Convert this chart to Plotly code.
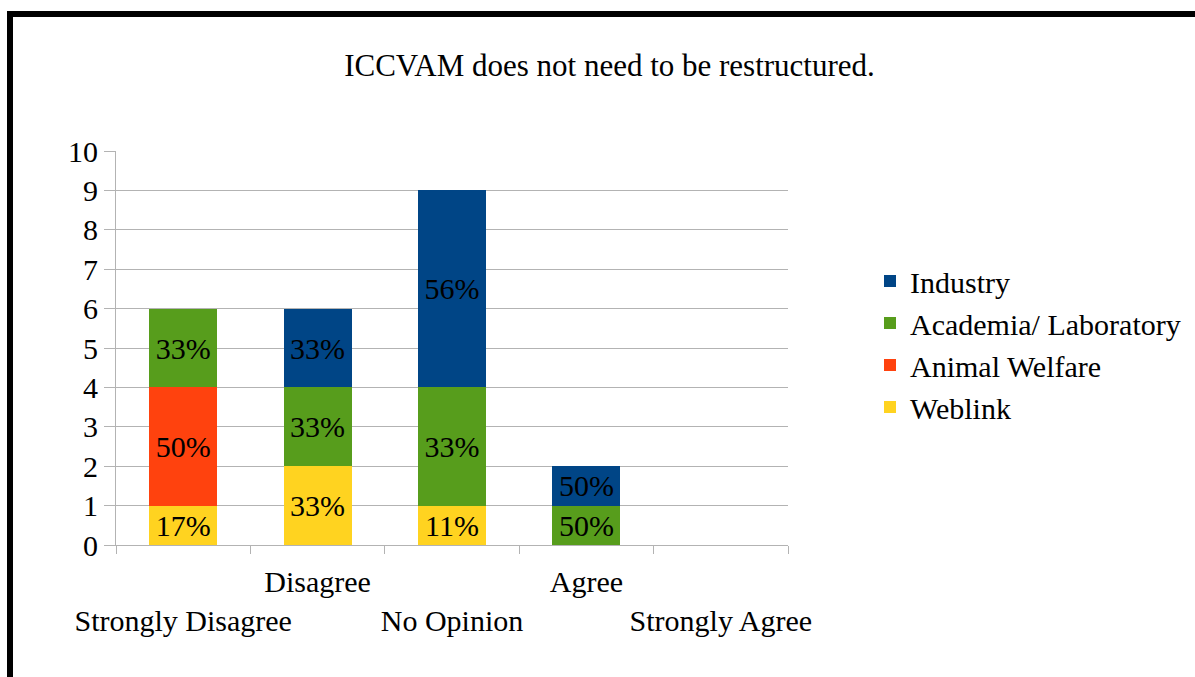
import plotly.graph_objects as go

categories = ["Strongly Disagree", "Disagree", "No Opinion", "Agree", "Strongly Agree"]
tick_labels = ["<br>Strongly Disagree", "Disagree", "<br>No Opinion", "Agree", "<br>Strongly Agree"]

weblink = [1, 2, 1, 0, 0]
animal_welfare = [3, 0, 0, 0, 0]
academia = [2, 2, 3, 1, 0]
industry = [0, 2, 5, 1, 0]

series = [
    ("Weblink", weblink, "#FFD320"),
    ("Animal Welfare", animal_welfare, "#FF420E"),
    ("Academia/ Laboratory", academia, "#579D1C"),
    ("Industry", industry, "#004586"),
]

totals = [sum(s[1][i] for s in series) for i in range(len(categories))]

FONT = "'Liberation Serif', 'Times New Roman', Times, serif"
FS = 30

fig = go.Figure()
for name, vals, color in series:
    y = [v if v else None for v in vals]
    txt = [f"{round(v / t * 100)}%" if v else "" for v, t in zip(vals, totals)]
    fig.add_trace(go.Bar(
        name=name, x=categories, y=y, marker=dict(color=color, line=dict(width=0)),
        text=txt, textposition="inside", insidetextanchor="middle", textangle=0,
        constraintext="none", textfont=dict(family=FONT, size=FS, color="black"),
        hoverinfo="skip",
    ))

# plot area: x 116..788, y 151..545
L, R, T, B = 116, 788, 151, 545
W, H = 1195, 677
pw, ph = R - L, B - T

def px(x):
    return (x - L) / pw

def py(y):
    return (B - y) / ph

fig.update_layout(
    width=W, height=H,
    margin=dict(l=L, r=W - R, t=T, b=H - B, pad=0, autoexpand=False),
    barmode="stack", bargap=0.495,
    paper_bgcolor="white", plot_bgcolor="white",
    font=dict(family=FONT, size=FS, color="black"),
    title=dict(text="ICCVAM does not need to be restructured.", x=609.5 / W, xref="container",
               xanchor="center", y=1 - 65 / H, yref="container", yanchor="middle",
               font=dict(family=FONT, size=31, color="black")),
    showlegend=True,
    legend=dict(traceorder="reversed", x=px(870), xanchor="left", y=py(344), yanchor="middle",
                font=dict(family=FONT, size=FS, color="black"), bgcolor="rgba(0,0,0,0)",
                itemclick=False, itemdoubleclick=False),
    xaxis=dict(type="category", tickson="boundaries", ticks="outside", ticklen=8, tickwidth=1,
               tickcolor="#b3b3b3", showline=True, linecolor="#b3b3b3", linewidth=1,
               tickmode="array", tickvals=categories, ticktext=tick_labels, tickangle=0,
               automargin=False, ticklabelstandoff=10,
               tickfont=dict(family=FONT, size=FS, color="black"), showgrid=False,
               mirror=False),
    yaxis=dict(range=[0, 10], dtick=1, ticks="outside", ticklen=11, tickwidth=1,
               tickcolor="#b3b3b3", showline=True, linecolor="#b3b3b3", linewidth=1,
               showgrid=True, gridcolor="#b3b3b3", gridwidth=1, zeroline=False,
               automargin=False,
               tickfont=dict(family=FONT, size=FS, color="black")),
    shapes=[
        dict(type="line", xref="paper", yref="paper", x0=px(7), x1=px(W + 5), y0=py(14), y1=py(14),
             line=dict(color="black", width=6)),
        dict(type="line", xref="paper", yref="paper", x0=px(10), x1=px(10), y0=py(11), y1=py(H + 5),
             line=dict(color="black", width=6)),
    ],
)

fig.write_html("out.html")
